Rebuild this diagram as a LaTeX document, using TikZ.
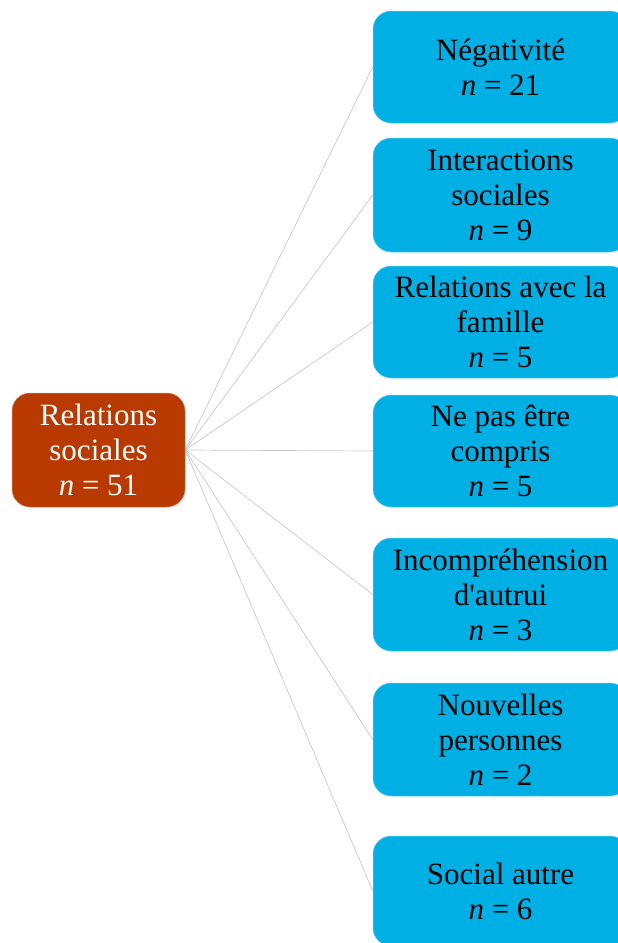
\documentclass[tikz,border=0pt]{standalone}
\usepackage{fontspec}
\setmainfont{Liberation Serif}
\newfontfamily\straightfont{Liberation Serif}[Ligatures=TeXOff]
\definecolor{rootcol}{RGB}{184,58,0}
\definecolor{leafcol}{RGB}{0,176,228}
\definecolor{linkcol}{RGB}{200,200,200}
\begin{document}
\begin{tikzpicture}[x=1pt,y=-1pt,
  rootbox/.style={rectangle,rounded corners=18pt,fill=rootcol,draw=rootcol!60!white,line width=0.5pt,
    text=white,align=center,minimum width=173pt,minimum height=114pt,inner sep=0pt,
    font=\fontsize{31}{35}\selectfont},
  leafbox/.style={rectangle,rounded corners=18pt,fill=leafcol,draw=leafcol!60!white,line width=0.5pt,
    text=black,align=center,minimum width=255pt,inner sep=0pt,
    font=\fontsize{31}{35}\selectfont},
  link/.style={draw=linkcol,line width=0.7pt}]
\useasboundingbox (0,0) rectangle (618,943);
\clip (0,0) rectangle (618,943);
\node[rootbox] (root) at (98.5,450) {Relations\\sociales\\\textit{n} = 51};
\node[leafbox,minimum height=112pt] (b1) at (500.5,67) {Négativité\\\textit{n} = 21};
\node[leafbox,minimum height=114pt] (b2) at (500.5,195) {Interactions\\sociales\\\textit{n} = 9};
\node[leafbox,minimum height=112pt] (b3) at (500.5,322) {Relations avec la\\famille\\\textit{n} = 5};
\node[leafbox,minimum height=112pt] (b4) at (500.5,451) {Ne pas être\\compris\\\textit{n} = 5};
\node[leafbox,minimum height=113pt] (b5) at (500.5,594.5) {Incompréhension\\{\straightfont d'autrui}\\\textit{n} = 3};
\node[leafbox,minimum height=113pt] (b6) at (500.5,739.5) {Nouvelles\\personnes\\\textit{n} = 2};
\node[leafbox,minimum height=110pt] (b7) at (500.5,891) {Social autre\\\textit{n} = 6};
\foreach \i in {1,...,7} {
  \draw[link] (root.east) -- (b\i.west);
}
\end{tikzpicture}
\end{document}
